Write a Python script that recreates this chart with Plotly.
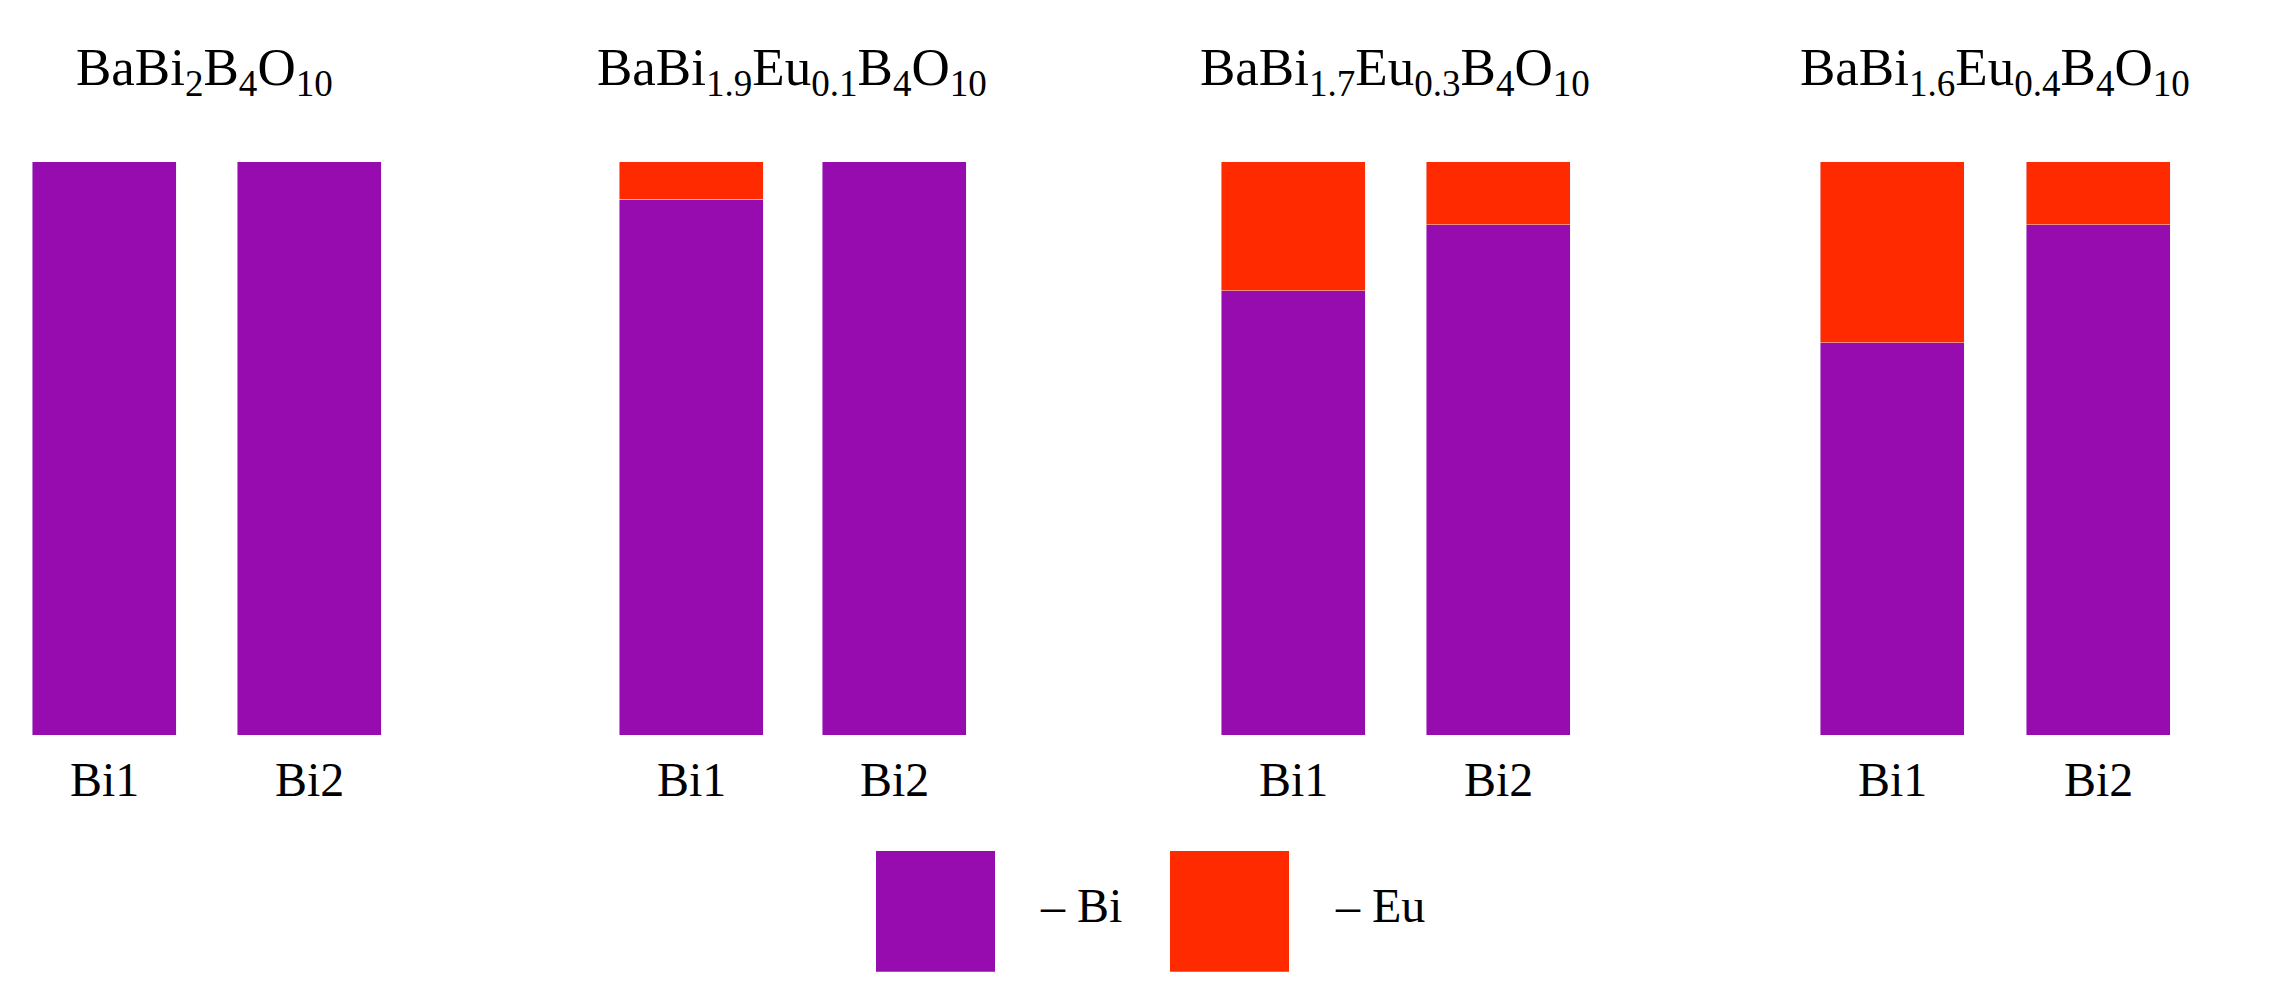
import plotly.graph_objects as go

titles = ["BaBi<sub>2</sub>B<sub>4</sub>O<sub>10</sub>",
          "BaBi<sub>1.9</sub>Eu<sub>0.1</sub>B<sub>4</sub>O<sub>10</sub>",
          "BaBi<sub>1.7</sub>Eu<sub>0.3</sub>B<sub>4</sub>O<sub>10</sub>",
          "BaBi<sub>1.6</sub>Eu<sub>0.4</sub>B<sub>4</sub>O<sub>10</sub>"]
sites = ["Bi1", "Bi2"] * 4
eu = [0, 0, 6.5, 0, 22.5, 11, 31.5, 11]
bi = [100 - v for v in eu]
# horizontal positions of bars (page pixel units)
xpos = [96, 301, 683, 886, 1285, 1490, 1884, 2090]
title_x = [196, 784, 1387, 1987]

PURPLE = "#960CAE"
RED = "#FF2A00"
FONT = "Liberation Serif"

fig = go.Figure()
fig.add_bar(x=xpos, y=bi, marker_color=PURPLE, width=144, name="Bi")
fig.add_bar(x=xpos, y=eu, marker_color=RED, width=144, name="Eu")

for t, x in zip(titles, title_x):
    fig.add_annotation(x=x, y=0.972, xref="x", yref="paper", text=t, showarrow=False,
                       font=dict(family=FONT, size=53, color="black"))
for s, x in zip(sites, xpos):
    fig.add_annotation(x=x, y=0.205, xref="x", yref="paper", text=s, showarrow=False,
                       font=dict(family=FONT, size=48, color="black"))

# legend swatches
fig.add_shape(type="rect", xref="x", yref="paper", x0=868, x1=987, y0=0.042, y1=0.162,
              fillcolor=PURPLE, line_width=0)
fig.add_shape(type="rect", xref="x", yref="paper", x0=1162, x1=1281, y0=0.042, y1=0.162,
              fillcolor=RED, line_width=0)
fig.add_annotation(x=1030, y=0.08, xref="x", yref="paper", text="– Bi", showarrow=False,
                   xanchor="left", font=dict(family=FONT, size=48, color="black"))
fig.add_annotation(x=1325, y=0.08, xref="x", yref="paper", text="– Eu", showarrow=False,
                   xanchor="left", font=dict(family=FONT, size=48, color="black"))

fig.update_layout(barmode="stack", width=2270, height=1006,
                  margin=dict(l=0, r=0, t=0, b=0), showlegend=False,
                  plot_bgcolor="white", paper_bgcolor="white")
fig.update_xaxes(range=[0, 2270], visible=False)
fig.update_yaxes(range=[0, 100], domain=[0.277, 0.847], visible=False)
fig.write_html("out.html")
